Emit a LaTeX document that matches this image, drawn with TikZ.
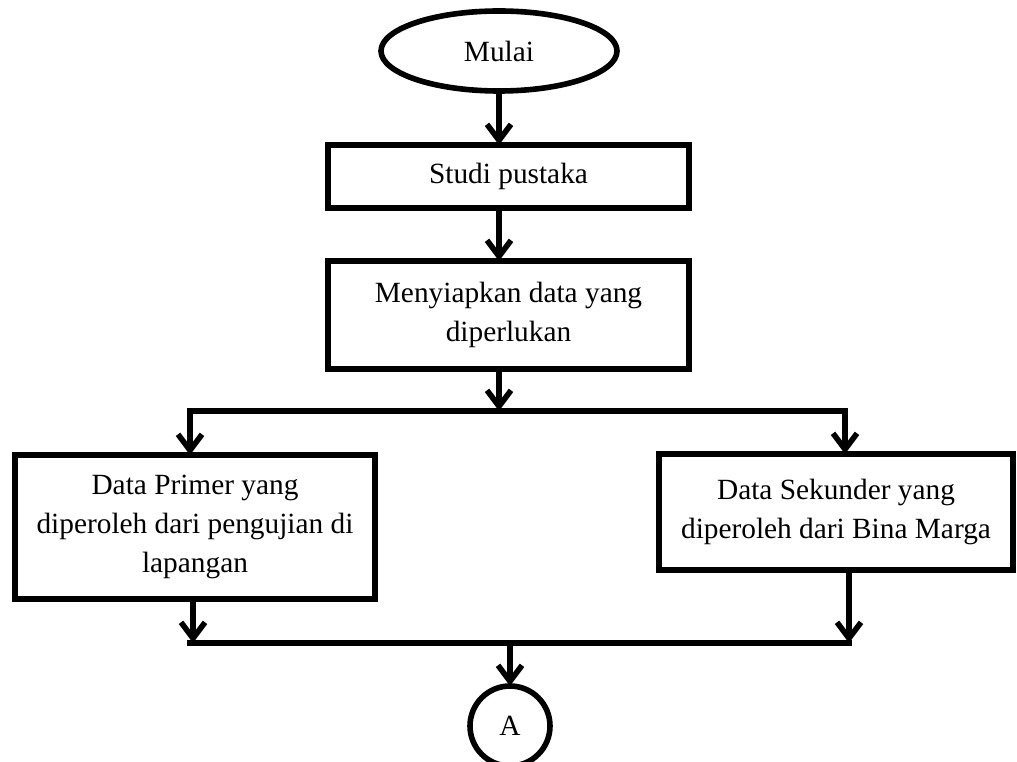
\documentclass[tikz,border=0pt]{standalone}
\usepackage{fontspec}
\setmainfont{Liberation Serif}
\usetikzlibrary{shapes.geometric,arrows.meta,calc}
\begin{document}
\begin{tikzpicture}[x=0.75pt,y=-0.75pt,
  every node/.style={font=\fontsize{22}{29}\selectfont, align=center, inner sep=0pt, outer sep=0pt},
  box/.style={draw, line width=4.2pt, rectangle},
  term/.style={draw, line width=4.2pt, ellipse},
  conn/.style={draw, line width=4.2pt, circle},
  wire/.style={line width=4.2pt},
  arr/.style={wire, -{Straight Barb[length=12pt,width=18pt]}},
]
\useasboundingbox (0,0) rectangle (1017,762);
\clip (0,0) rectangle (1017,762);

\node[term, minimum width=177pt, minimum height=60pt] (mulai) at (499,51) {Mulai};
\node[box, minimum width=270.75pt, minimum height=47.25pt] (studi) at (508.5,176.5) {Studi pustaka};
\node[box, minimum width=270.75pt, minimum height=81pt] (siap) at (508.5,315) {Menyiapkan data yang\\diperlukan};
\node[box, minimum width=270pt, minimum height=108pt] (primer) at (195,527) {Data Primer yang\\diperoleh dari pengujian di\\lapangan};
\node[box, minimum width=265.5pt, minimum height=87pt] (sekunder) at (836,512) {Data Sekunder yang\\diperoleh dari Bina Marga};
\node[conn, minimum size=60pt] (A) at (510,726) {A};

\coordinate (split) at (499,411);
\coordinate (sL) at (190,411);
\coordinate (sR) at (845,411);
\coordinate (mL) at (193,643);
\coordinate (mR) at (849,643);
\coordinate (mL0) at (190,643);
\coordinate (merge) at (510,643);

\draw[arr] (mulai.south) -- (mulai.south |- studi.north);
\draw[arr] (mulai.south |- studi.south) -- (mulai.south |- siap.north);
\draw[arr] (mulai.south |- siap.south) -- (split);
\draw[wire, line cap=rect] (sL) -- (sR);
\draw[arr] (sL) -- (sL |- primer.north);
\draw[arr] (sR) -- (sR |- sekunder.north);
\draw[arr] (mL |- primer.south) -- (mL);
\draw[arr] (mR |- sekunder.south) -- (mR);
\draw[wire, line cap=rect] (mL0) -- (mR);
\draw[arr] (merge) -- (A.north);
\end{tikzpicture}
\end{document}
